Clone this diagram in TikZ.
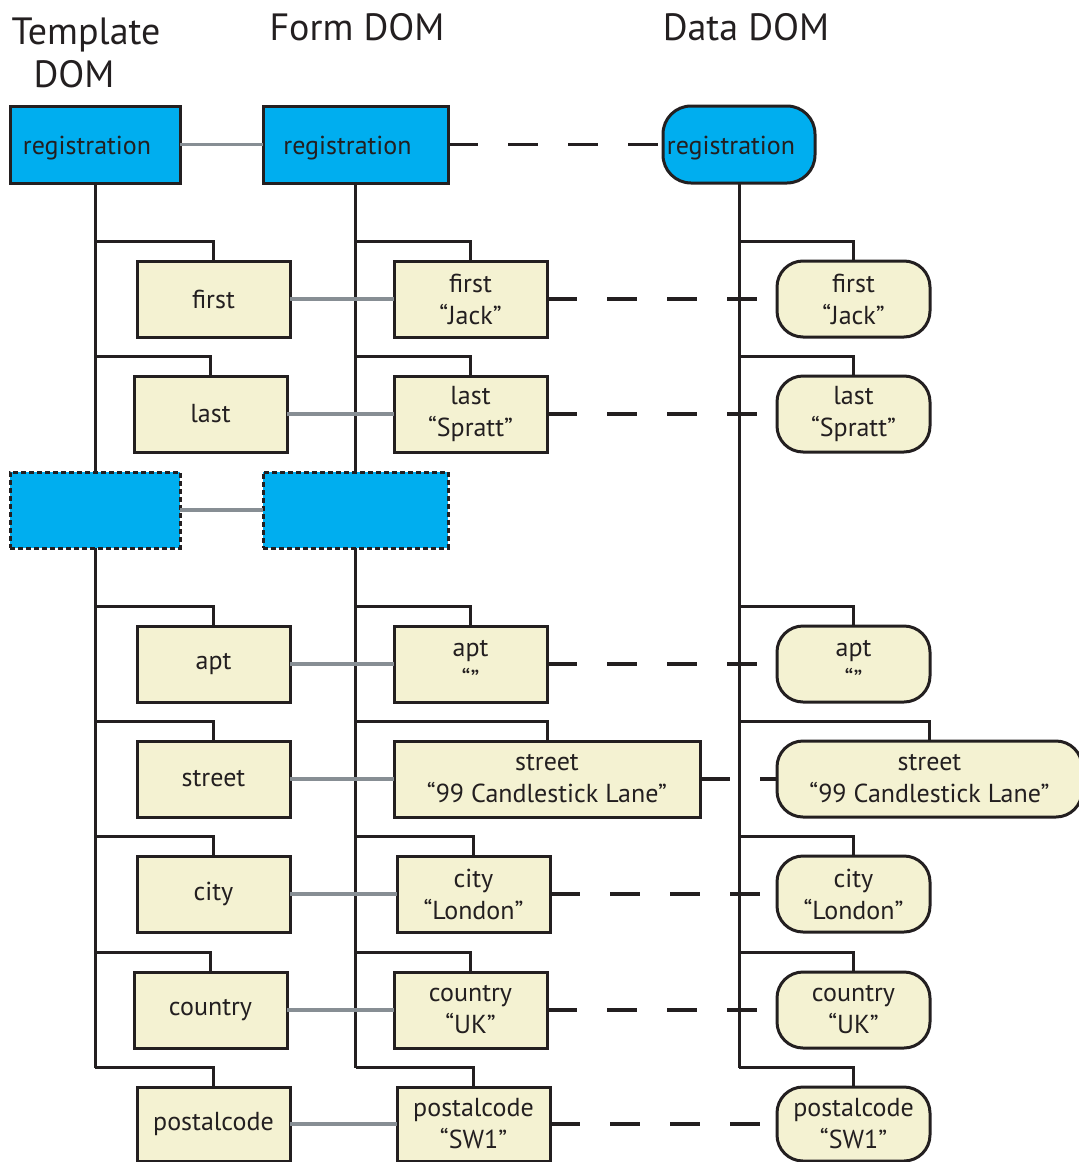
\documentclass[tikz,border=0pt]{standalone}
\usepackage{fontspec}
\setmainfont{PT Sans}
\usetikzlibrary{calc}
\definecolor{cyanfill}{HTML}{00AEEF}
\definecolor{creamfill}{HTML}{F4F2D2}
\definecolor{linkgray}{HTML}{878E94}
\definecolor{ink}{HTML}{231F20}
\newcommand\mkbox[7][]{%
  \node[#2,#1,anchor=north west,minimum width={(#5-#3)*1pt},minimum height={(#6-#4)*1pt}] (#7) at (#3,#4)}
\newcommand\regtxt{\raisebox{-10pt}[0pt][0pt]{registration\kern16pt}}
\begin{document}
\begin{tikzpicture}[x=1pt,y=-1pt,
  font=\fontsize{26}{32}\selectfont, text=ink,
  basebox/.style={draw=ink,line width=3pt,inner sep=0pt,outer sep=0pt,align=center},
  regbox/.style={basebox,fill=cyanfill,rectangle},
  dotbox/.style={basebox,fill=cyanfill,dash pattern=on 5pt off 3pt},
  leafbox/.style={basebox,fill=creamfill},
  databox/.style={basebox,fill=creamfill,rounded corners=26pt},
  dataregbox/.style={basebox,fill=cyanfill,rounded corners=28pt},
  trunk/.style={draw=ink,line width=3pt},
  link/.style={draw=linkgray,line width=3.5pt},
  dlink/.style={draw=ink,line width=3.5pt,dash pattern=on 30pt off 30pt},
  title/.style={font=\fontsize{38}{44}\selectfont,inner sep=0pt}]
\useasboundingbox (0,0) rectangle (1079,1162);
% titles
\node[title,anchor=north] (t1) at (86,18) {Template};
\node[title,anchor=north] (t1b) at (74,60) {DOM};
\node[title,anchor=north] (t2) at (357,13) {Form DOM};
\node[title,anchor=north] (t3) at (746,13) {Data DOM};
% template column
\mkbox{regbox}{10}{106}{180}{183}{treg}{\regtxt};
\mkbox{leafbox}{137}{261}{290}{337}{tfirst}{first};
\mkbox{leafbox}{134}{376}{287}{452}{tlast}{last};
\mkbox{dotbox}{10}{472}{180}{548}{tdot}{};
\mkbox{leafbox}{137}{626}{290}{702}{tapt}{apt};
\mkbox{leafbox}{137}{741}{290}{817}{tstreet}{street};
\mkbox{leafbox}{137}{856}{290}{932}{tcity}{city};
\mkbox{leafbox}{134}{972}{287}{1048}{tcountry}{country};
\mkbox{leafbox}{137}{1087}{290}{1161}{tpost}{postalcode};
% form column
\mkbox{regbox}{263}{106}{448}{183}{freg}{\regtxt};
\mkbox{leafbox}{394}{261}{547}{337}{ffirst}{first\\“Jack”};
\mkbox{leafbox}{394}{376}{547}{452}{flast}{last\\“Spratt”};
\mkbox{dotbox}{263}{472}{448}{548}{fdot}{};
\mkbox{leafbox}{394}{626}{547}{702}{fapt}{apt\\“”};
\mkbox{leafbox}{394}{741}{700}{817}{fstreet}{street\\“99 Candlestick Lane”};
\mkbox{leafbox}{397}{856}{550}{932}{fcity}{city\\“London”};
\mkbox{leafbox}{394}{972}{547}{1048}{fcountry}{country\\“UK”};
\mkbox{leafbox}{397}{1087}{550}{1161}{fpost}{postalcode\\“SW1”};
% data column
\mkbox{dataregbox}{663}{106}{815}{183}{dreg}{\regtxt};
\mkbox{databox}{777}{261}{930}{337}{dfirst}{first\\“Jack”};
\mkbox{databox}{777}{376}{930}{452}{dlast}{last\\“Spratt”};
\mkbox{databox}{777}{626}{930}{702}{dapt}{apt\\“”};
\mkbox{databox}{777}{741}{1082}{817}{dstreet}{street\\“99 Candlestick Lane”};
\mkbox{databox}{777}{856}{930}{932}{dcity}{city\\“London”};
\mkbox{databox}{777}{972}{930}{1048}{dcountry}{country\\“UK”};
\mkbox{databox}{777}{1087}{930}{1161}{dpost}{postalcode\\“SW1”};
% trunk ends
\path (treg.south |- tpost.north) ++(0,-19) coordinate (tend);
\path (freg.south |- fpost.north) ++(0,-19) coordinate (fend);
\path (739,0 |- dpost.north) ++(0,-19) coordinate (dend);
% trunks
\draw[trunk] (treg.south) -- (tdot.north);
\draw[trunk] (tdot.south) -- (tend);
\draw[trunk] (freg.south) -- (fdot.north);
\draw[trunk] (fdot.south) -- (fend);
\draw[trunk] (dreg.south -| dend) -- (dend);
% branches
\foreach \b in {first,last,apt,street,city,country,post}{
  \draw[trunk] (treg.south |- t\b.north) ++(0,-20) -| (t\b.north);
  \draw[trunk] (freg.south |- f\b.north) ++(0,-20) -| (f\b.north);
  \draw[trunk] (dend |- d\b.north) ++(0,-20) -| (d\b.north);
}
% links template-form and form-data
\draw[link] (treg.east) -- (freg.west);
\draw[link] (tdot.east) -- (fdot.west);
\foreach \b in {first,last,apt,street,city,country,post}{
  \draw[link] (t\b.east) -- (f\b.west);
  \draw[dlink] (f\b.east) -- (d\b.west);
}
\draw[dlink] (freg.east) -- (dreg.west);
\end{tikzpicture}
\end{document}
